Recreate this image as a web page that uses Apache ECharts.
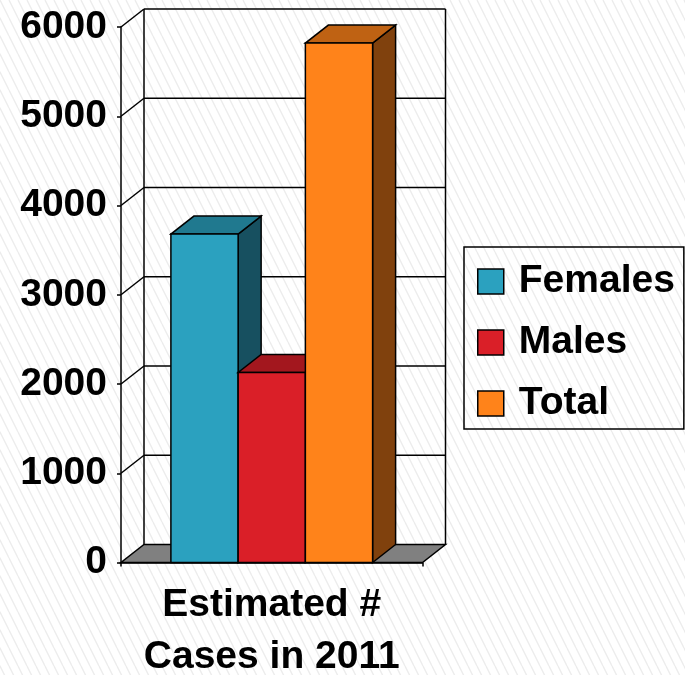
<!DOCTYPE html>
<html>
<head>
<meta charset="utf-8">
<script src="https://cdn.jsdelivr.net/npm/echarts@6/dist/echarts.min.js"></script>
<style>
html,body{margin:0;padding:0;background:#fff;}
#chart{width:685px;height:675px;}
</style>
</head>
<body>
<div id="chart"></div>
<script>
// ---- data ----
const categories = ['Estimated #\nCases in 2011'];
const seriesNames = ['Females', 'Males', 'Total'];
const femalesValues = [3680];
const malesValues = [2130];
const totalValues = [5820];
const yTicks = [0, 1000, 2000, 3000, 4000, 5000, 6000];

// ---- styles ----
const FONT = '"Liberation Sans", Arial, sans-serif';
const DX = 23, DY = -18;          // 3D depth offset
const BAR_RATIO = 0.223;          // bar width as fraction of category band
const faceColors = {
  Females: { front: '#2BA1BF', top: '#20798F', side: '#175060' },
  Males:   { front: '#DA1F28', top: '#A3171E', side: '#6D1014' },
  Total:   { front: '#FF831A', top: '#BF6213', side: '#80410D' }
};
const LINE = { stroke: '#000', lineWidth: 1.5 };

// hatch pattern tile
const tile = document.createElement('canvas');
tile.width = 9; tile.height = 18;
(function () {
  const c = tile.getContext('2d');
  c.fillStyle = '#ffffff';
  c.fillRect(0, 0, 9, 18);
  c.strokeStyle = '#ececec';
  c.lineWidth = 1.3;
  [-9, 0, 9].forEach(function (x) {
    c.beginPath(); c.moveTo(x, 0); c.lineTo(x + 9, 18); c.stroke();
  });
})();

function frameRender(params, api) {
  const cs = params.coordSys;
  const left = cs.x, right = cs.x + cs.width;
  const v = api.value(1);
  const y = api.coord([0, v])[1];
  const children = [];
  if (params.dataIndex === 0) {
    const yTop = cs.y;
    children.push({
      type: 'polygon',
      shape: { points: [[left, y], [right, y], [right + DX, y + DY], [left + DX, y + DY]] },
      style: { fill: '#808080', stroke: '#000', lineWidth: 1.5 }
    });
    children.push({ type: 'line', shape: { x1: left + DX, y1: yTop + DY, x2: left + DX, y2: y + DY }, style: LINE });
    children.push({ type: 'line', shape: { x1: right + DX, y1: yTop + DY, x2: right + DX, y2: y + DY }, style: LINE });
  } else {
    children.push({ type: 'line', shape: { x1: left, y1: y, x2: left + DX, y2: y + DY }, style: LINE });
    children.push({ type: 'line', shape: { x1: left + DX, y1: y + DY, x2: right + DX, y2: y + DY }, style: LINE });
  }
  return { type: 'group', children: children };
}

function makeBarRender(idx, name) {
  const col = faceColors[name];
  return function (params, api) {
    const v = api.value(1);
    const band = api.size([1, 0])[0];
    const cx = api.coord([api.value(0), v])[0];
    const yTop = api.coord([api.value(0), v])[1];
    const yBase = api.coord([api.value(0), 0])[1];
    const w = band * BAR_RATIO;
    const x0 = cx - (3 * w) / 2 + idx * w;
    const x1 = x0 + w;
    return {
      type: 'group',
      children: [
        { type: 'polygon', shape: { points: [[x1, yTop], [x1 + DX, yTop + DY], [x1 + DX, yBase + DY], [x1, yBase]] },
          style: { fill: col.side, stroke: '#000', lineWidth: 1.5 } },
        { type: 'polygon', shape: { points: [[x0, yTop], [x1, yTop], [x1 + DX, yTop + DY], [x0 + DX, yTop + DY]] },
          style: { fill: col.top, stroke: '#000', lineWidth: 1.5 } },
        { type: 'rect', shape: { x: x0, y: yTop, width: w, height: yBase - yTop },
          style: { fill: col.front, stroke: '#000', lineWidth: 1.5 } }
      ]
    };
  };
}

const valueLists = { Females: femalesValues, Males: malesValues, Total: totalValues };

const series = [{
  name: 'frame',
  type: 'custom',
  coordinateSystem: 'cartesian2d',
  renderItem: frameRender,
  data: yTicks.map(function (t) { return [0, t]; }),
  silent: true,
  z: 1
}];
seriesNames.forEach(function (n, i) {
  series.push({
    name: n,
    type: 'custom',
    coordinateSystem: 'cartesian2d',
    renderItem: makeBarRender(i, n),
    itemStyle: { color: faceColors[n].front },
    data: valueLists[n].map(function (v, k) { return [k, v]; }),
    z: 2 + i
  });
});

const chart = echarts.init(document.getElementById('chart'), null, { renderer: 'canvas' });
chart.setOption({
  animation: false,
  backgroundColor: { image: tile, repeat: 'repeat' },
  grid: { left: 121, right: 262.5, top: 27, bottom: 112.5, containLabel: false, outerBoundsMode: 'none' },
  xAxis: {
    type: 'category',
    data: categories,
    boundaryGap: true,
    axisLine: { show: true, lineStyle: { color: '#000', width: 1.5 } },
    axisTick: { show: true, length: 4, lineStyle: { color: '#000', width: 1.5 } },
    axisLabel: { margin: 17, color: '#000', fontFamily: FONT, fontWeight: 'bold', fontSize: 39, lineHeight: 52 },
    splitLine: { show: false }
  },
  yAxis: {
    type: 'value',
    min: 0, max: 6000, interval: 1000,
    axisLine: { show: true, lineStyle: { color: '#000', width: 1.5 } },
    axisTick: { show: true, length: 4, lineStyle: { color: '#000', width: 1.5 } },
    axisLabel: { margin: 14, color: '#000', fontFamily: FONT, fontWeight: 'bold', fontSize: 39,
      formatter: function (v) { return String(v); } },
    splitLine: { show: false }
  },
  legend: {
    data: seriesNames,
    orient: 'vertical',
    left: 464, top: 247,
    padding: [15, 9, 6, 13],
    itemWidth: 26, itemHeight: 25, itemGap: 22,
    icon: 'rect',
    itemStyle: { borderColor: '#000', borderWidth: 1.5 },
    borderColor: '#000', borderWidth: 1.5,
    backgroundColor: 'transparent',
    selectedMode: false,
    textStyle: { color: '#000', fontFamily: FONT, fontWeight: 'bold', fontSize: 39, padding: [0, 0, 0, 10] }
  },
  series: series
});
</script>
</body>
</html>
